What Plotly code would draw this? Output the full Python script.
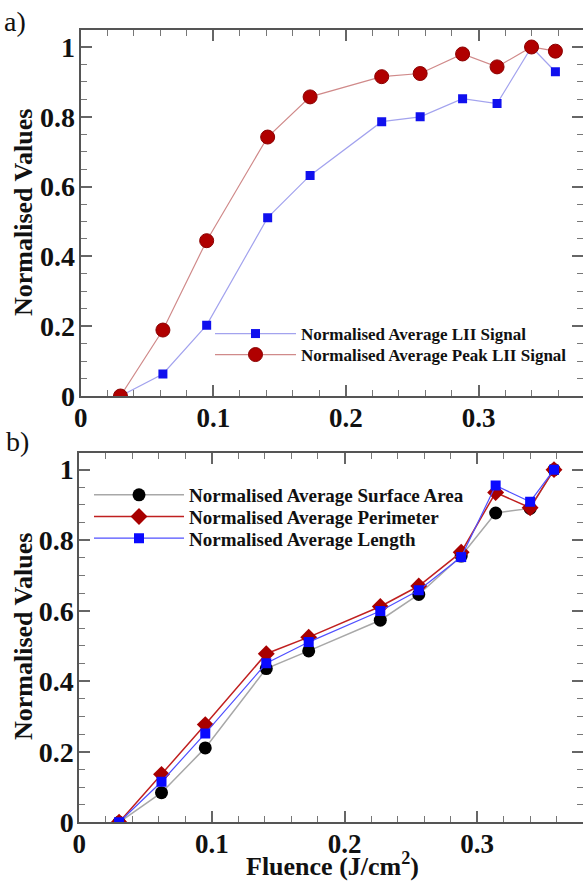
import plotly.graph_objects as go

# ---- data ----
fluence = [0.030, 0.062, 0.095, 0.141, 0.173, 0.227, 0.256, 0.288, 0.314, 0.340, 0.358]

lii_signal = [0.0, 0.063, 0.203, 0.511, 0.632, 0.786, 0.800, 0.852, 0.838, 1.0, 0.929]
lii_peak = [0.0, 0.189, 0.445, 0.742, 0.857, 0.915, 0.924, 0.980, 0.943, 1.0, 0.988]

surface_area = [0.0, 0.084, 0.211, 0.436, 0.486, 0.573, 0.646, 0.755, 0.877, 0.890, 1.0]
perimeter = [0.0, 0.136, 0.277, 0.478, 0.525, 0.612, 0.670, 0.766, 0.935, 0.892, 1.0]
length = [0.0, 0.115, 0.252, 0.451, 0.511, 0.599, 0.658, 0.752, 0.955, 0.909, 1.0]

x_ticks = [0, 0.1, 0.2, 0.3]
x_ticklabels = ["0", "0.1", "0.2", "0.3"]
y_ticks = [0, 0.2, 0.4, 0.6, 0.8, 1.0]
y_ticklabels = ["0", "0.2", "0.4", "0.6", "0.8", "1"]

W, H = 583, 881
SERIF = "Liberation Serif"

fig = go.Figure()

# ---- panel a ----
fig.add_trace(go.Scatter(
    x=fluence, y=lii_signal, mode="lines+markers",
    name="Normalised Average LII Signal",
    line=dict(color="#a3a3ee", width=1.2),
    marker=dict(symbol="square", size=9, color="#1010ee"),
    xaxis="x", yaxis="y", legend="legend"))
fig.add_trace(go.Scatter(
    x=fluence, y=lii_peak, mode="lines+markers",
    name="Normalised Average Peak LII Signal",
    line=dict(color="#d08a8a", width=1.2),
    marker=dict(symbol="circle", size=14, color="#b00000",
                line=dict(color="#8a0000", width=1)),
    xaxis="x", yaxis="y", legend="legend2"))

# ---- panel b ----
fig.add_trace(go.Scatter(
    x=fluence, y=surface_area, mode="lines+markers",
    name="Normalised Average Surface Area",
    line=dict(color="#a8a8a8", width=1.5),
    marker=dict(symbol="circle", size=13, color="#000000"),
    xaxis="x2", yaxis="y2", legend="legend3"))
fig.add_trace(go.Scatter(
    x=fluence, y=perimeter, mode="lines+markers",
    name="Normalised Average Perimeter",
    line=dict(color="#c02020", width=1.5),
    marker=dict(symbol="diamond", size=13, color="#a80000"),
    xaxis="x2", yaxis="y2", legend="legend4"))
fig.add_trace(go.Scatter(
    x=fluence, y=length, mode="lines+markers",
    name="Normalised Average Length",
    line=dict(color="#5050ff", width=1.2),
    marker=dict(symbol="square", size=10, color="#0a0aff"),
    xaxis="x2", yaxis="y2", legend="legend5"))


def px_x(p):
    return p / W


def px_y(p):
    return 1 - p / H


def axis_common(size=28):
    return dict(
        showline=True, linecolor="#555555", linewidth=2, mirror="ticks",
        ticks="inside", ticklen=11, tickwidth=1.5, tickcolor="#666666",
        showgrid=False, zeroline=False, automargin=False,
        tickfont=dict(family=SERIF, size=size, color="#111111", weight="bold"),
    )


minor_x = dict(dtick=0.02, tick0=0, ticks="inside", ticklen=6,
               tickwidth=1.2, tickcolor="#777777")
minor_y = dict(dtick=0.05, tick0=0, ticks="inside", ticklen=6,
               tickwidth=1.2, tickcolor="#777777")

xa = axis_common(27)
xa.update(range=[0, (W - 80.7) / 1326.0], tickvals=x_ticks, ticktext=x_ticklabels,
          minor=minor_x, domain=[px_x(80.7), 1.0], anchor="y", ticklabelstandoff=-3)
ya = axis_common()
ya.update(range=[0, 1.0487], tickvals=y_ticks, ticktext=y_ticklabels,
          minor=minor_y, domain=[px_y(396), px_y(30)], anchor="x", ticklabelstandoff=-2)

xb = axis_common(27)
xb.update(range=[0, (W - 79.3) / 1326.0], tickvals=x_ticks, ticktext=x_ticklabels,
          minor=minor_x, domain=[px_x(79.3), 1.0], anchor="y2", ticklabelstandoff=-4)
yb = axis_common()
yb.update(range=[0, 1.048], tickvals=y_ticks, ticktext=y_ticklabels,
          minor=minor_y, domain=[px_y(822.3), px_y(452.7)], anchor="x2", ticklabelstandoff=-2)


def one_legend(x_px, y_px, iw, size):
    return dict(x=px_x(x_px), y=px_y(y_px), xanchor="left", yanchor="middle",
                bgcolor="rgba(0,0,0,0)", itemwidth=iw, borderwidth=0,
                font=dict(family=SERIF, size=size, color="#111111", weight="bold"))


def text_ann(text, x_px, y_px, size, bold=True, angle=0, xanchor="center", yanchor="middle"):
    f = dict(family=SERIF, size=size, color="#111111")
    if bold:
        f["weight"] = "bold"
    return dict(text=text, x=px_x(x_px), y=px_y(y_px), xref="paper", yref="paper",
                xanchor=xanchor, yanchor=yanchor, showarrow=False, textangle=angle, font=f)


fig.update_layout(
    width=W, height=H,
    margin=dict(l=0, r=0, t=0, b=0),
    paper_bgcolor="white", plot_bgcolor="white",
    xaxis=xa, yaxis=ya, xaxis2=xb, yaxis2=yb,
    legend=one_legend(210, 334, 81, 17),
    legend2=one_legend(210, 355, 81, 17),
    legend3=one_legend(89, 495, 90, 19),
    legend4=one_legend(89, 516.7, 90, 19),
    legend5=one_legend(89, 538.3, 90, 19),
    showlegend=True,
    annotations=[
        text_ann("a)", 2, 4, 28, bold=False, xanchor="left", yanchor="top"),
        text_ann("b)", 4, 424, 28, bold=False, xanchor="left", yanchor="top"),
        text_ann("Normalised Values", 23, 213, 26, angle=-90),
        text_ann("Normalised Values", 23, 637, 26, angle=-90),
        text_ann("Fluence (J/cm<sup>2</sup>)", 332, 864.5, 26),
    ],
)

fig.write_html("out.html", config={"displayModeBar": False},
               post_script="document.body.style.margin='0';document.body.style.padding='0';")
